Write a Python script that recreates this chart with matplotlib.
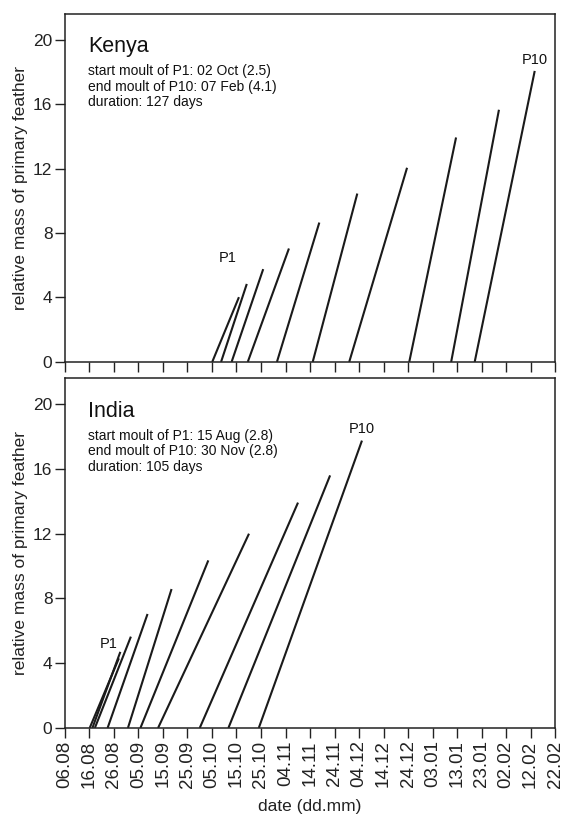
import matplotlib.pyplot as plt

plt.rcParams['font.family'] = ['Liberation Sans', 'DejaVu Sans']

# days counted from 06.08
tick_days = list(range(0, 201, 10))
tick_labels = ['06.08', '16.08', '26.08', '05.09', '15.09', '25.09', '05.10',
               '15.10', '25.10', '04.11', '14.11', '24.11', '04.12', '14.12',
               '24.12', '03.01', '13.01', '23.01', '02.02', '12.02', '22.02']

# Kenya: start of growth, end of growth (days), final relative mass
kenya_start = [60.1, 63.7, 68.0, 74.6, 86.5, 101.1, 116.0, 140.5, 157.6, 167.2]
kenya_end = [71.0, 74.2, 80.9, 91.4, 103.8, 119.3, 139.6, 159.6, 177.1, 191.7]
kenya_mass = [4.02, 4.84, 5.76, 7.04, 8.65, 10.45, 12.05, 13.93, 15.65, 18.06]

# India
india_start = [10.1, 11.2, 12.2, 17.4, 25.7, 30.8, 38.0, 55.0, 66.7, 79.1]
india_end = [22.0, 22.6, 26.9, 33.7, 43.5, 58.5, 75.1, 95.1, 108.2, 121.2]
india_mass = [4.3, 4.7, 5.64, 7.04, 8.58, 10.35, 12.0, 13.92, 15.6, 17.75]

kenya_info = ['start moult of P1: 02 Oct (2.5)',
              'end moult of P10: 07 Feb (4.1)',
              'duration: 127 days']
india_info = ['start moult of P1: 15 Aug (2.8)',
              'end moult of P10: 30 Nov (2.8)',
              'duration: 105 days']

fig = plt.figure(figsize=(5.8, 8.17), dpi=100)
ax1 = fig.add_axes([0.112, 0.557, 0.845, 0.426])
ax2 = fig.add_axes([0.112, 0.109, 0.845, 0.428])


def draw_panel(ax, name, starts, ends, masses, info, p1_off):
    for s, e, m in zip(starts, ends, masses):
        ax.plot([s, e], [0, m], color='#1a1a1a', lw=1.5, solid_capstyle='butt')
    ax.set_xlim(0, 200)
    ax.set_ylim(0, 21.6)
    ax.set_yticks([0, 4, 8, 12, 16, 20])
    ax.set_xticks(tick_days)
    ax.tick_params(direction='out', length=7, width=1, labelsize=12.5,
                   colors='#222222', pad=2)
    ax.tick_params(axis='x', labelsize=13.5)
    for sp in ax.spines.values():
        sp.set_linewidth(1.1)
        sp.set_color('#222222')
    ax.set_ylabel('relative mass of primary feather', fontsize=12.5, color='#222222', labelpad=4)
    ax.text(0.048, 0.905, name, transform=ax.transAxes, fontsize=15.5, color='#111111',
            va='center')
    for i, line in enumerate(info):
        ax.text(0.048, 0.835 - i * 0.044, line, transform=ax.transAxes, fontsize=10,
                color='#111111', va='center')
    ax.annotate('P1', (ends[0], masses[0]), xytext=p1_off, textcoords='offset points',
                ha='center', va='center', fontsize=10.5, color='#111111')
    ax.annotate('P10', (ends[-1], masses[-1]), xytext=(0, 3), textcoords='offset points',
                ha='center', va='bottom', fontsize=10.5, color='#111111')


draw_panel(ax1, 'Kenya', kenya_start, kenya_end, kenya_mass, kenya_info, (-8, 28))
draw_panel(ax2, 'India', india_start, india_end, india_mass, india_info, (-7, 10))

ax1.set_xticklabels([])
ax2.set_xticklabels(tick_labels, rotation=90)
ax2.set_xlabel('date (dd.mm)', fontsize=12.5, color='#222222', labelpad=8)

fig.savefig('out.png', dpi=100)
